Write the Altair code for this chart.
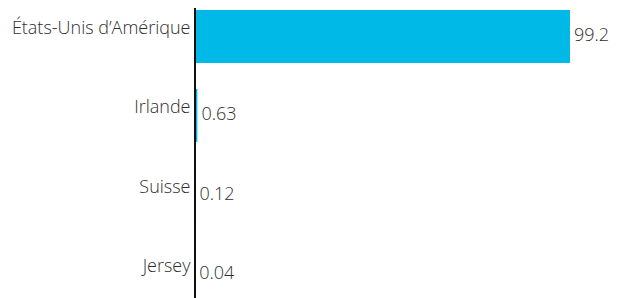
import altair as alt
import pandas as pd

countries = ["États-Unis d’Amérique", "Irlande", "Suisse", "Jersey"]
values = [99.2, 0.63, 0.12, 0.04]
labels = ["99.2", "0.63", "0.12", "0.04"]

df = pd.DataFrame({"pays": countries, "valeur": values, "label": labels})

FONT = "Open Sans"
FS = 18
W, H = 378, 294

y_enc = alt.Y("pays:N", sort=countries,
              scale=alt.Scale(paddingInner=0.33, paddingOuter=0.025),
              axis=alt.Axis(title=None, ticks=False, domain=False, labelPadding=5,
                            labelBaseline="alphabetic", labelOffset=-2,
                            labelFont=FONT, labelFontSize=FS, labelColor="#2e2e2e",
                            labelFontWeight=300, labelLimit=300))
x_enc = alt.X("valeur:Q", scale=alt.Scale(domain=[0, 100]), axis=None)

bars = alt.Chart(df).mark_bar(color="#00B9E7").encode(x=x_enc, y=y_enc)
text = alt.Chart(df).mark_text(align="left", baseline="middle", dx=4, font=FONT,
                               fontSize=FS, fontWeight=300, color="#2e2e2e").encode(
    x=x_enc, y=alt.Y("pays:N", sort=countries), text="label:N")
axisline = alt.Chart(df).mark_rule(color="#000000", strokeWidth=1).encode(
    x=alt.value(0), y=alt.value(-8), y2=alt.value(H))

chart = alt.layer(bars, text, axisline).properties(
    width=W, height=H,
    autosize=alt.AutoSizeParams(type="none"),
    padding={"left": 187, "top": 0, "right": 38, "bottom": 0},
).configure(background="white").configure_view(stroke=None)

chart.save("out.html", embed_options={"renderer": "svg", "actions": False})
